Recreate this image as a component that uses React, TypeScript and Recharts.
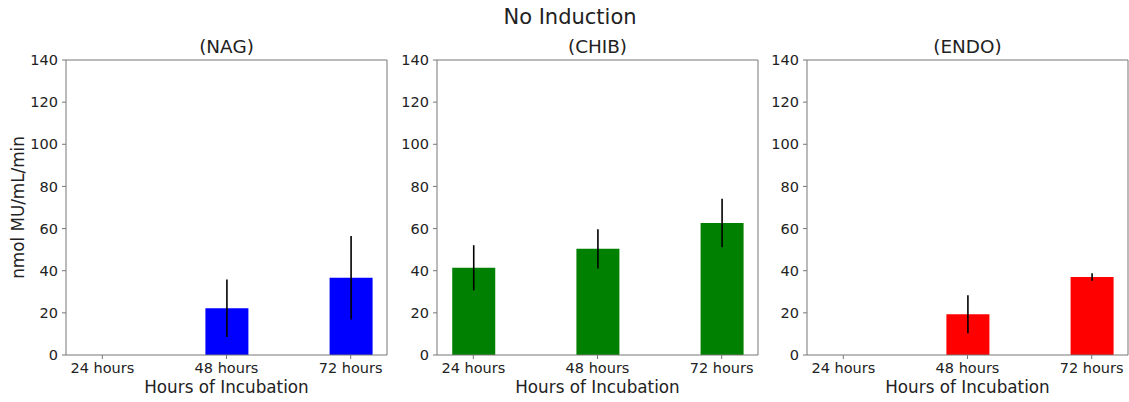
import React from 'react';
import { BarChart, Bar, XAxis, YAxis, ErrorBar, Label, ReferenceLine } from 'recharts';

const hours = ['24 hours', '48 hours', '72 hours'];
const positions = [0, 1, 2];

const nagValues = [0, 22.2, 36.7];
const nagErrors = [0, 13.6, 19.8];
const chibValues = [41.4, 50.4, 62.6];
const chibErrors = [10.7, 9.3, 11.5];
const endoValues = [0, 19.3, 37.0];
const endoErrors = [0, 9.0, 1.8];

const yTicks = [0, 20, 40, 60, 80, 100, 120, 140];

const panels = [
  { title: '(NAG)', color: '#0000ff', values: nagValues, errors: nagErrors, left: 0 },
  { title: '(CHIB)', color: '#008000', values: chibValues, errors: chibErrors, left: 371 },
  { title: '(ENDO)', color: '#ff0000', values: endoValues, errors: endoErrors, left: 741 },
];

const FONT = '"DejaVu Sans", Verdana, sans-serif';
const TEXT = '#222';
const FRAME = '#777';

const PLOT_LEFT = 66;
const PLOT_W = 321;
const PLOT_TOP = 60;
const PLOT_BOTTOM = 355;
const H = 402;
const X_DOMAIN: [number, number] = [-0.2925, 2.2925];
const Y_MAX = 140;

const Panel: React.FC<{ p: typeof panels[number]; showYLabel: boolean }> = ({ p, showYLabel }) => {
  const data = positions.map((x, i) => ({ x, value: p.values[i], err: p.errors[i] }));
  const tickStyle = { fill: TEXT, fontSize: 14.5, fontFamily: FONT };
  return (
    <div style={{ position: 'absolute', left: p.left, top: 0 }}>
      <BarChart
        width={PLOT_LEFT + PLOT_W + 4}
        height={H}
        data={data}
        margin={{ top: PLOT_TOP, right: 4, left: 0, bottom: 0 }}
      >
        <XAxis
          dataKey="x"
          type="number"
          domain={X_DOMAIN}
          ticks={positions}
          allowDataOverflow
          tickFormatter={(v: number) => hours[v]}
          height={H - PLOT_BOTTOM}
          stroke={FRAME}
          tickSize={4}
          tickMargin={4}
          tick={tickStyle}
        >
          <Label
            value="Hours of Incubation"
            position="insideBottom"
            offset={9}
            style={{ fill: TEXT, fontSize: 16.8, fontFamily: FONT }}
          />
        </XAxis>
        <YAxis
          type="number"
          domain={[0, Y_MAX]}
          ticks={yTicks}
          width={PLOT_LEFT}
          stroke={FRAME}
          tickSize={4}
          tickMargin={4}
          tick={tickStyle}
        >
          {showYLabel && (
            <Label
              value="nmol MU/mL/min"
              angle={-90}
              position="insideLeft"
              offset={18}
              style={{ fill: TEXT, fontSize: 16.8, fontFamily: FONT, textAnchor: 'middle' }}
            />
          )}
        </YAxis>
        <ReferenceLine y={Y_MAX} stroke={FRAME} strokeWidth={1} />
        <ReferenceLine x={X_DOMAIN[1]} stroke={FRAME} strokeWidth={1} />
        <Bar dataKey="value" fill={p.color} barSize={43} isAnimationActive={false}>
          <ErrorBar dataKey="err" width={0} stroke="#000" strokeWidth={1.6} isAnimationActive={false} />
        </Bar>
      </BarChart>
      <div
        style={{
          position: 'absolute',
          left: PLOT_LEFT,
          width: PLOT_W,
          top: 38,
          textAlign: 'center',
          fontFamily: FONT,
          fontSize: 18.4,
          lineHeight: '18.4px',
          color: TEXT,
        }}
      >
        {p.title}
      </div>
    </div>
  );
};

export default function App() {
  return (
    <div style={{ position: 'absolute', left: 0, top: 0, width: 1129, height: H, background: '#fff' }}>
      <div
        style={{
          position: 'absolute',
          left: 370,
          width: 400,
          top: 7,
          textAlign: 'center',
          fontFamily: FONT,
          fontSize: 21,
          lineHeight: '21px',
          color: TEXT,
        }}
      >
        No Induction
      </div>
      {panels.map((p, i) => (
        <Panel key={p.title} p={p} showYLabel={i === 0} />
      ))}
    </div>
  );
}
